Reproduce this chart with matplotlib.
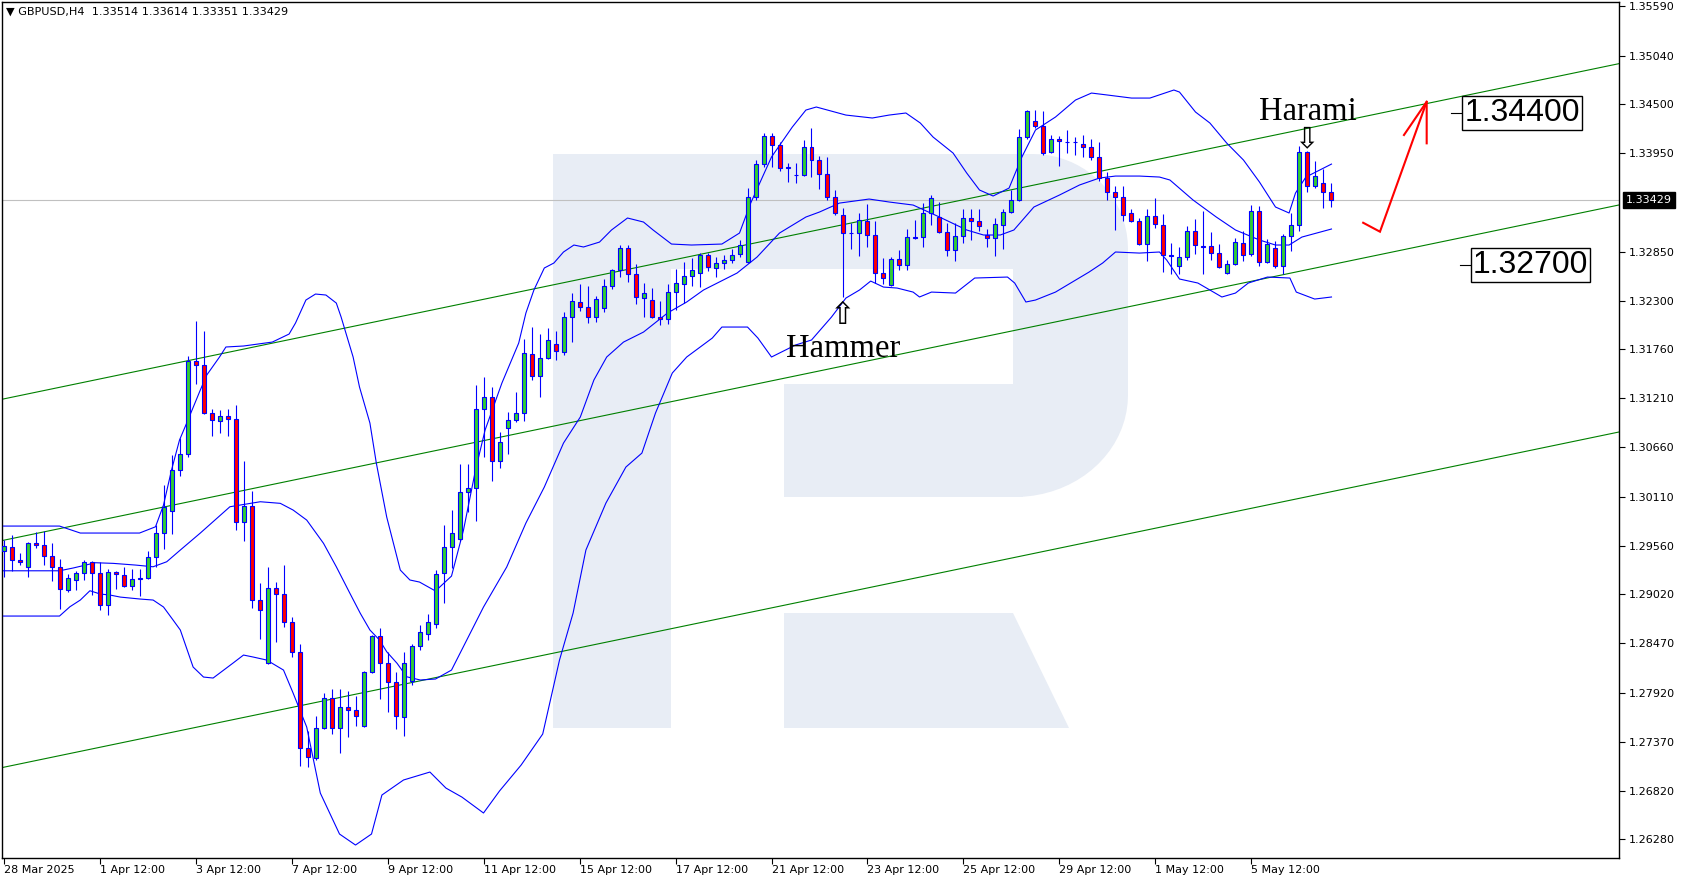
import numpy as np
import matplotlib
matplotlib.use("Agg")
import matplotlib.pyplot as plt
from matplotlib.patches import Rectangle, Polygon
from matplotlib.collections import LineCollection
import matplotlib.transforms as mtransforms

# GBPUSD H4 candles
opens = [1.29502, 1.29547, 1.29401, 1.29323, 1.29591, 1.29569, 1.29446, 1.29323, 1.29066, 1.29178,
         1.29256, 1.29379, 1.29256, 1.28898, 1.29267, 1.29234, 1.29111, 1.29189, 1.29200, 1.29435,
         1.29703, 1.29949, 1.30407, 1.30586, 1.31626, 1.31581, 1.31045, 1.30955, 1.31011, 1.30978,
         1.29826, 1.30005, 1.28954, 1.28250, 1.29088, 1.29021, 1.28708, 1.28373, 1.27299, 1.27187,
         1.27523, 1.27858, 1.27523, 1.27758, 1.27724, 1.27545, 1.28149, 1.28552, 1.28250, 1.28037,
         1.27646, 1.28048, 1.28440, 1.28574, 1.28686, 1.29256, 1.29547, 1.29636, 1.30161, 1.30206,
         1.31089, 1.31224, 1.30508, 1.30877, 1.30966, 1.31045, 1.31704, 1.31458, 1.31660, 1.31816,
         1.31727, 1.32118, 1.32286, 1.32230, 1.32118, 1.32219, 1.32465, 1.32643, 1.32889, 1.32599,
         1.32330, 1.32308, 1.32118, 1.32096, 1.32397, 1.32487, 1.32576, 1.32610, 1.32811, 1.32666,
         1.32722, 1.32755, 1.32822, 1.32733, 1.33460, 1.33828, 1.34142, 1.34041, 1.33795, 1.33705,
         1.33705, 1.34019, 1.33873, 1.33717, 1.33460, 1.33258, 1.33057, 1.33057, 1.33191, 1.33035,
         1.32610, 1.32476, 1.32766, 1.32699, 1.33012, 1.33012, 1.33281, 1.33236, 1.33068, 1.32867,
         1.33024, 1.33225, 1.33191, 1.33035, 1.33001, 1.33146, 1.33292, 1.33426, 1.34130, 1.34309,
         1.34253, 1.33963, 1.34108, 1.34080, 1.34074, 1.34052, 1.34019, 1.33907, 1.33672, 1.33515,
         1.33460, 1.33281, 1.33191, 1.32934, 1.33247, 1.33146, 1.32811, 1.32688, 1.32789, 1.33079,
         1.32912, 1.32912, 1.32833, 1.32610, 1.32711, 1.32945, 1.32822, 1.33303, 1.32733, 1.32889,
         1.32688, 1.33024, 1.33146, 1.33962, 1.33582, 1.33616, 1.33514]
highs = [1.29625, 1.29681, 1.29479, 1.29602, 1.29714, 1.29725, 1.29591, 1.29412, 1.29245, 1.29278,
         1.29401, 1.29390, 1.29379, 1.29301, 1.29278, 1.29323, 1.29301, 1.29301, 1.29502, 1.29793,
         1.30240, 1.30575, 1.30765, 1.31682, 1.32073, 1.31961, 1.31089, 1.31078, 1.31089, 1.31134,
         1.30508, 1.30173, 1.29144, 1.29323, 1.29155, 1.29345, 1.28764, 1.28462, 1.27489, 1.27657,
         1.27914, 1.27959, 1.27959, 1.27937, 1.27881, 1.28161, 1.28563, 1.28641, 1.28373, 1.28149,
         1.28373, 1.28462, 1.28674, 1.28797, 1.29290, 1.29793, 1.29960, 1.30474, 1.30474, 1.31358,
         1.31447, 1.31335, 1.30832, 1.31056, 1.31280, 1.31872, 1.32006, 1.31928, 1.31995, 1.31961,
         1.32174, 1.32386, 1.32487, 1.32465, 1.32353, 1.32543, 1.32655, 1.32923, 1.32923, 1.32710,
         1.32498, 1.32442, 1.32297, 1.32487, 1.32655, 1.32733, 1.32778, 1.32833, 1.32833, 1.32789,
         1.32811, 1.32878, 1.32979, 1.33560, 1.33873, 1.34175, 1.34175, 1.34074, 1.33840, 1.33840,
         1.34097, 1.34231, 1.33918, 1.33907, 1.33538, 1.33337, 1.33169, 1.33281, 1.33381, 1.33191,
         1.32778, 1.32789, 1.32867, 1.33102, 1.33202, 1.33393, 1.33482, 1.33404, 1.33169, 1.33169,
         1.33325, 1.33325, 1.33325, 1.33102, 1.33225, 1.33325, 1.33538, 1.34220, 1.34432, 1.34432,
         1.34421, 1.34153, 1.34142, 1.34209, 1.34130, 1.34153, 1.34108, 1.34074, 1.33739, 1.33582,
         1.33582, 1.33325, 1.33225, 1.33325, 1.33448, 1.33269, 1.32945, 1.32901, 1.33135, 1.33214,
         1.33303, 1.33068, 1.32934, 1.32755, 1.33001, 1.33079, 1.33370, 1.33359, 1.32990, 1.32968,
         1.33046, 1.33281, 1.34030, 1.33974, 1.33862, 1.33772, 1.33614]
lows = [1.29211, 1.29278, 1.29345, 1.29211, 1.29535, 1.29345, 1.29167, 1.28854, 1.29043, 1.29066,
        1.29178, 1.29010, 1.28842, 1.28786, 1.29077, 1.29100, 1.29066, 1.28999, 1.29189, 1.29323,
        1.29524, 1.29692, 1.30340, 1.30553, 1.31369, 1.31034, 1.30788, 1.30821, 1.30788, 1.29737,
        1.29614, 1.28865, 1.28518, 1.28239, 1.28484, 1.28652, 1.28317, 1.27098, 1.27086, 1.27165,
        1.27512, 1.27456, 1.27243, 1.27422, 1.27545, 1.27534, 1.28138, 1.27847, 1.27702, 1.27512,
        1.27434, 1.28004, 1.28395, 1.28507, 1.28641, 1.28921, 1.29312, 1.29614, 1.29938, 1.29837,
        1.30553, 1.30284, 1.30430, 1.30586, 1.30944, 1.30955, 1.31414, 1.31224, 1.31648, 1.31637,
        1.31693, 1.31838, 1.32185, 1.32051, 1.32062, 1.32174, 1.32431, 1.32565, 1.32509, 1.32263,
        1.32118, 1.32107, 1.32029, 1.32040, 1.32196, 1.32275, 1.32465, 1.32453, 1.32632, 1.32565,
        1.32655, 1.32722, 1.32789, 1.32722, 1.33426, 1.33795, 1.33795, 1.33750, 1.33627, 1.33616,
        1.33694, 1.33683, 1.33549, 1.33426, 1.33258, 1.32342, 1.32878, 1.32800, 1.32901, 1.32498,
        1.32487, 1.32465, 1.32643, 1.32643, 1.32990, 1.32901, 1.33146, 1.33057, 1.32800, 1.32744,
        1.32945, 1.32979, 1.33079, 1.32901, 1.32800, 1.32878, 1.33281, 1.33415, 1.34108, 1.34231,
        1.33929, 1.33951, 1.33806, 1.33951, 1.33929, 1.33907, 1.33873, 1.33638, 1.33426, 1.33091,
        1.33191, 1.33180, 1.32923, 1.32744, 1.33113, 1.32621, 1.32599, 1.32599, 1.32755, 1.32822,
        1.32599, 1.32755, 1.32666, 1.32599, 1.32699, 1.32744, 1.32800, 1.32688, 1.32722, 1.32666,
        1.32599, 1.32856, 1.33079, 1.33515, 1.33560, 1.33337, 1.33351]
closes = [1.29558, 1.29401, 1.29379, 1.29591, 1.29569, 1.29446, 1.29323, 1.29077, 1.29200, 1.29256,
          1.29379, 1.29256, 1.28898, 1.29267, 1.29245, 1.29111, 1.29189, 1.29195, 1.29435, 1.29703,
          1.29999, 1.30407, 1.30586, 1.31626, 1.31581, 1.31045, 1.30966, 1.31011, 1.30978, 1.29826,
          1.30005, 1.28954, 1.28842, 1.29088, 1.29021, 1.28708, 1.28373, 1.27299, 1.27198, 1.27523,
          1.27858, 1.27523, 1.27758, 1.27724, 1.27657, 1.28149, 1.28552, 1.28250, 1.28037, 1.27657,
          1.28250, 1.28440, 1.28596, 1.28708, 1.29245, 1.29547, 1.29703, 1.30161, 1.30206, 1.31089,
          1.31224, 1.30508, 1.30720, 1.30966, 1.31045, 1.31715, 1.31458, 1.31660, 1.31861, 1.31738,
          1.32118, 1.32297, 1.32230, 1.32118, 1.32319, 1.32465, 1.32643, 1.32889, 1.32599, 1.32342,
          1.32386, 1.32118, 1.32096, 1.32397, 1.32498, 1.32576, 1.32643, 1.32811, 1.32677, 1.32722,
          1.32755, 1.32811, 1.32923, 1.33460, 1.33828, 1.34142, 1.34041, 1.33784, 1.33784, 1.33705,
          1.34019, 1.33873, 1.33717, 1.33460, 1.33281, 1.33057, 1.33057, 1.33202, 1.33035, 1.32610,
          1.32554, 1.32766, 1.32699, 1.33012, 1.33007, 1.33281, 1.33448, 1.33068, 1.32867, 1.33024,
          1.33225, 1.33191, 1.33135, 1.33001, 1.33158, 1.33292, 1.33426, 1.34130, 1.34421, 1.34253,
          1.33951, 1.34108, 1.34086, 1.34075, 1.34070, 1.34019, 1.33907, 1.33672, 1.33515, 1.33460,
          1.33258, 1.33191, 1.32934, 1.33247, 1.33158, 1.32811, 1.32800, 1.32789, 1.33079, 1.32923,
          1.32901, 1.32833, 1.32677, 1.32711, 1.32956, 1.32811, 1.33303, 1.32733, 1.32934, 1.32688,
          1.33024, 1.33146, 1.33962, 1.33582, 1.33694, 1.33515, 1.33429]

# Bollinger bands (20, 2): bar index -> price
bb_up_x = [0, 7, 9.6, 17, 19, 20, 21, 22, 22.9, 24.6, 25.4, 27, 27.8, 30, 33.6, 35.7, 36.5, 37.8, 39,
           40.3, 41.6, 42.2, 42.8, 43.7, 44.5, 45.8, 46.6, 47.9, 49.6, 50.8, 52, 54, 56, 57.5, 59,
           60.2, 62.3, 64.4, 65.3, 66.3, 67.6, 68.8, 70, 71.3, 72.5, 74.5, 76, 78, 80, 81.2, 83.5,
           86, 89.8, 92, 93.4, 96, 98.6, 100.3, 101.6, 105.3, 108.6, 110.7, 112.8, 114.6, 116.2,
           118.7, 120.4, 122, 123.7, 125.7, 127.3, 129, 131.5, 134, 136, 138, 141, 143.3, 146.3,
           147, 149, 150.8, 152.9, 155, 157, 159, 160.7, 161.5, 162.8, 166]
bb_up = [1.29781, 1.29781, 1.29703, 1.29703, 1.29773, 1.30016, 1.30407, 1.30743, 1.30933, 1.31302,
         1.31469, 1.31671, 1.31783, 1.31794, 1.31838, 1.31928, 1.32051, 1.32308, 1.32375, 1.32364,
         1.32274, 1.32118, 1.31939, 1.31671, 1.31335, 1.30933, 1.30486, 1.29882, 1.29289, 1.29178,
         1.29155, 1.29055, 1.29222, 1.29737, 1.30407, 1.30855, 1.31380, 1.31827, 1.32163, 1.32420,
         1.32666, 1.32722, 1.32845, 1.32923, 1.32901, 1.32956, 1.33091, 1.33225, 1.33180, 1.33091,
         1.32934, 1.32923, 1.32934, 1.33057, 1.33392, 1.33907, 1.34242, 1.34432, 1.34466, 1.34376,
         1.34343, 1.34376, 1.34399, 1.34287, 1.34130, 1.33951, 1.33728, 1.33538, 1.33471, 1.33560,
         1.33907, 1.34209, 1.34354, 1.34544, 1.34622, 1.34600, 1.34566, 1.34566, 1.34656, 1.34633,
         1.34410, 1.34287, 1.34063, 1.33873, 1.33627, 1.33348, 1.33281, 1.33504, 1.33683, 1.33828]
bb_mid_x = [0, 7, 8.7, 11.5, 13.7, 16.5, 18.7, 20.4, 22.1, 24.6, 28.3, 32.1, 34.6, 36.2, 37.9, 40,
            41.6, 43.3, 44.6, 45.8, 47, 47.9, 49.2, 50.4, 52.1, 54, 56, 60, 62.9, 65.3, 67.6, 70,
            72.1, 73.8, 75.4, 77.5, 80, 83, 85.4, 87.5, 91.7, 94.2, 97, 100.3, 102, 104.5, 108.2,
            110.7, 113.7, 117, 120.4, 122.5, 124.6, 126.3, 128.8, 132, 134.5, 137, 139, 142, 144.5,
            145.8, 148.7, 151.6, 154, 157, 159, 160.7, 162.3, 166]
bb_mid = [1.29281, 1.29281, 1.29312, 1.29371, 1.29364, 1.29345, 1.29326, 1.29382, 1.29513, 1.29703,
          1.29997, 1.30053, 1.30035, 1.29960, 1.29848, 1.29588, 1.29326, 1.29029, 1.28805, 1.28619,
          1.28507, 1.28376, 1.28246, 1.28096, 1.28060, 1.28071, 1.28171, 1.28876, 1.29323, 1.29815,
          1.30217, 1.30709, 1.31000, 1.31414, 1.31671, 1.31838, 1.31950, 1.32163, 1.32286, 1.32420,
          1.32610, 1.32789, 1.33057, 1.33236, 1.33292, 1.33392, 1.33437, 1.33404, 1.33370, 1.33236,
          1.33091, 1.33035, 1.33035, 1.33091, 1.33348, 1.33482, 1.33594, 1.33672, 1.33694, 1.33694,
          1.33683, 1.33650, 1.33426, 1.33236, 1.33091, 1.32979, 1.32923, 1.32923, 1.33012, 1.33102]
bb_low_x = [0, 7, 8.3, 9.6, 10.8, 12.1, 13.3, 14.6, 17.1, 18.7, 20, 21.2, 22.1, 23.7, 25, 26.2,
            28.7, 30, 31.2, 32.9, 35, 36.2, 37.9, 39.6, 42, 44, 46, 47.3, 50, 53.3, 55.3, 57.3, 60,
            62, 64.7, 67.4, 69.5, 71.2, 72.8, 75.3, 77.8, 79.8, 81.5, 83.6, 85.4, 88.6, 89.8, 93,
            94.3, 96, 99, 101, 103.5, 105.3, 107, 108.4, 110, 111.7, 113.7, 114.5, 116, 119, 121.4,
            125.5, 126.4, 127.8, 129, 131.5, 135.7, 137.4, 139, 142, 144.5, 145.4, 147, 149.3,
            152.3, 154, 155.6, 158, 160.8, 161.6, 163.9, 166]
bb_low = [1.28775, 1.28775, 1.28879, 1.28954, 1.29058, 1.29021, 1.29010, 1.28987, 1.28965, 1.28954,
          1.28876, 1.28730, 1.28619, 1.28205, 1.28093, 1.28082, 1.28250, 1.28339, 1.28317, 1.28283,
          1.28171, 1.27914, 1.27534, 1.26796, 1.26338, 1.26215, 1.26338, 1.26774, 1.26942, 1.27031,
          1.26852, 1.26751, 1.26573, 1.26819, 1.27109, 1.27456, 1.28283, 1.28809, 1.29513, 1.30038,
          1.30441, 1.30597, 1.31045, 1.31492, 1.31671, 1.31883, 1.32006, 1.32006, 1.31883, 1.31671,
          1.31805, 1.31861, 1.32118, 1.32330, 1.32420, 1.32520, 1.32453, 1.32442, 1.32397, 1.32342,
          1.32397, 1.32386, 1.32554, 1.32565, 1.32498, 1.32286, 1.32308, 1.32397, 1.32621, 1.32722,
          1.32845, 1.32833, 1.32845, 1.32755, 1.32543, 1.32498, 1.32342, 1.32386, 1.32498, 1.32565,
          1.32554, 1.32397, 1.32319, 1.32342]

# ascending channel (three parallel lines), endpoints in bar / price
channel_x = [-0.44, 201.9]
channel_upper = [1.31194, 1.34950]
channel_middle = [1.29614, 1.33370]
channel_lower = [1.27076, 1.30832]

# axis labels
x_tick_bars = [0, 12, 24, 36, 48, 60, 72, 84, 96, 108, 120, 132, 144, 156]
x_tick_labels = ["28 Mar 2025", "1 Apr 12:00", "3 Apr 12:00", "7 Apr 12:00", "9 Apr 12:00",
                 "11 Apr 12:00", "15 Apr 12:00", "17 Apr 12:00", "21 Apr 12:00", "23 Apr 12:00",
                 "25 Apr 12:00", "29 Apr 12:00", "1 May 12:00", "5 May 12:00"]
y_tick_labels = ["1.35590", "1.35040", "1.34500", "1.33950", "1.32850", "1.32300", "1.31760",
                 "1.31210", "1.30660", "1.30110", "1.29560", "1.29020", "1.28470", "1.27920",
                 "1.27370", "1.26820", "1.26280"]

# forecast levels and pattern marks
target_levels = [1.34400, 1.32700]
pattern_names = ["Harami", "Hammer"]
pattern_bars = [163, 105]
forecast_x = [169.96, 172.06, 177.9]
forecast_y = [1.33172, 1.33072, 1.34525]

W, H = 1684, 882
fig = plt.figure(figsize=(W / 100, H / 100), dpi=100)
fig.patch.set_facecolor("white")

# faint broker logo in the background (pixel coordinates)
wm = fig.add_axes([0, 0, 1, 1], zorder=0)
wm.set_xlim(0, W)
wm.set_ylim(H, 0)
wm.axis("off")
logo = "#e8edf5"
wm.add_patch(Rectangle((553, 154), 118, 574, color=logo, lw=0))       # stem
wm.add_patch(Rectangle((553, 154), 470, 115, color=logo, lw=0))       # top bar
wm.add_patch(Rectangle((784, 384), 239, 113, color=logo, lw=0))       # middle bar
t1 = np.linspace(np.pi / 2, 0, 20)
t2 = np.linspace(0, -np.pi / 2, 20)
bowl = [(1013, 154)]
bowl += [(1033 + 95 * np.cos(t), 249 - 95 * np.sin(t)) for t in t1]
bowl += [(1015 + 113 * np.cos(t), 395 - 102 * np.sin(t)) for t in t2]
bowl += [(1013, 497)]
wm.add_patch(Polygon(bowl, closed=True, color=logo, lw=0))
wm.add_patch(Polygon([(784, 613), (1013, 613), (1069, 728), (784, 728)], color=logo, lw=0))

ax = fig.add_axes([2 / W, 24 / H, 1617 / W, 856 / H], zorder=1)
ax.patch.set_alpha(0)
ax.set_xlim(-0.19, 201.94)
ax.set_ylim(1.26070, 1.35640)

# channel
for ys in (channel_upper, channel_middle, channel_lower):
    ax.plot(channel_x, ys, color="#008000", lw=0.8, zorder=2)

# current price line
ax.axhline(closes[-1], color="#c0c0c0", lw=0.8, zorder=1)

# bands
for bx, by in ((bb_up_x, bb_up), (bb_mid_x, bb_mid), (bb_low_x, bb_low)):
    ax.plot(bx, by, color="#0000ff", lw=0.8, zorder=3)

# candles
n = len(closes)
wicks = [[(i, lows[i]), (i, highs[i])] for i in range(n)]
ax.add_collection(LineCollection(wicks, colors="#0000ff", linewidths=0.8, zorder=4))
bw = 0.5
for i in range(n):
    o, c = opens[i], closes[i]
    fc = "#32cd32" if c >= o else "#ff0000"
    ax.add_patch(Rectangle((i - bw / 2, min(o, c)), bw, abs(c - o), facecolor=fc,
                           edgecolor="#0000ff", lw=0.8, zorder=5))

# pattern captions with outlined arrows
for name, b in zip(pattern_names, pattern_bars):
    if name == "Harami":
        top = highs[b]
        ax.text(b, top + 0.00345, name, family="Liberation Serif", fontsize=23.5,
                ha="center", va="baseline", zorder=6)
        ax.text(b - 0.1, top + 0.00132, "\u21e9", family="DejaVu Sans", fontsize=21,
                ha="center", va="center", zorder=6)
    else:
        bot = lows[b]
        ax.text(b, bot - 0.00667, name, family="Liberation Serif", fontsize=23.5,
                ha="center", va="baseline", zorder=6)
        ax.text(b - 0.1, bot - 0.00202, "\u21e7", family="DejaVu Sans", fontsize=22,
                ha="center", va="center", zorder=6)

# forecast arrow
ax.plot(forecast_x, forecast_y, color="#ff0000", lw=1.5, zorder=6, solid_joinstyle="miter")
ax.plot([forecast_x[2] - 2.84, forecast_x[2], forecast_x[2]],
        [forecast_y[2] - 0.00372, forecast_y[2], forecast_y[2] - 0.00465],
        color="#ff0000", lw=1.5, zorder=6)

# target level labels
for lvl, x0 in zip(target_levels, (181.0, 182.1)):
    ax.plot([x0, x0 + 1.3], [lvl, lvl], color="black", lw=0.8, zorder=6)
    ax.text(x0 + 1.6, lvl, f"{lvl:.5f}", family="Liberation Sans",
            fontsize=23, ha="left", va="center", zorder=6,
            bbox=dict(boxstyle="square,pad=0.06", facecolor="white", edgecolor="black", lw=1))

# axes frame and ticks
for s in ax.spines.values():
    s.set_color("black")
    s.set_linewidth(1)
ax.yaxis.tick_right()
ax.set_yticks([float(t) for t in y_tick_labels])
ax.set_yticklabels(y_tick_labels)
ax.set_xticks(x_tick_bars)
ax.set_xticklabels(x_tick_labels)
ax.tick_params(axis="y", direction="out", length=4, width=0.8, pad=3, labelsize=8,
               colors="black")
ax.tick_params(axis="x", direction="out", length=4, width=0.8, pad=1, labelsize=8,
               colors="black")
for lab in ax.get_xticklabels():
    lab.set_horizontalalignment("left")

# current price tag on the price scale
tr = mtransforms.blended_transform_factory(ax.transAxes, ax.transData)
ax.text(1.0 + 7 / 1617, closes[-1], f"{closes[-1]:.5f}", transform=tr, fontsize=8,
        color="white", ha="left", va="center", zorder=7, clip_on=False,
        bbox=dict(boxstyle="square,pad=0.25", facecolor="black", edgecolor="black"))

# header line
fig.text(6 / W, 1 - 12 / H,
         f"\u25bc GBPUSD,H4  {opens[-1]:.5f} {highs[-1]:.5f} {lows[-1]:.5f} {closes[-1]:.5f}",
         fontsize=8.1, ha="left", va="center", color="black")

fig.savefig("out.png", dpi=100)
